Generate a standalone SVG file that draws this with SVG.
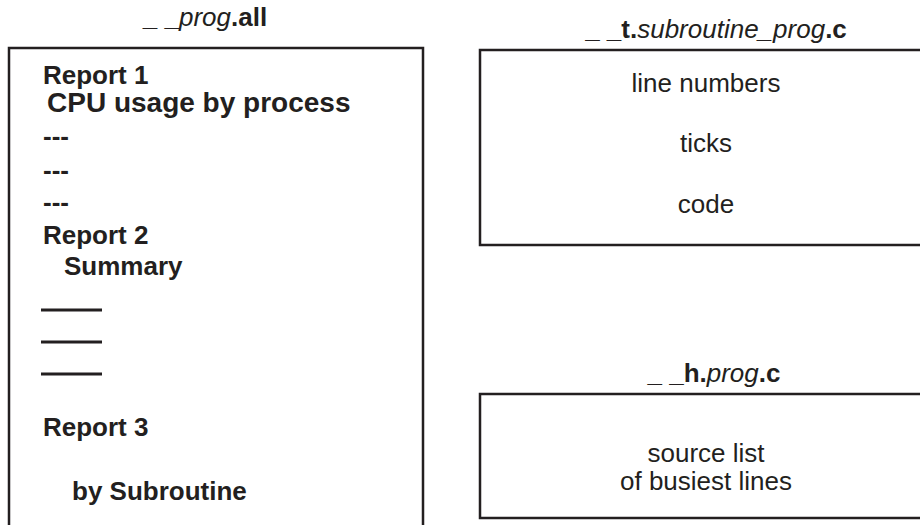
<svg xmlns="http://www.w3.org/2000/svg" width="920" height="525" viewBox="0 0 920 525">
  <style>
    text { font-family: "Liberation Sans", Arial, sans-serif; fill: #231f20; font-size: 26px; }
    .b { font-weight: bold; }
    .i { font-style: italic; font-weight: normal; }
    .c { text-anchor: middle; }
    .box { fill: none; stroke: #231f20; stroke-width: 2.5; }
    .rule { stroke: #231f20; stroke-width: 3; }
  </style>
  <rect width="920" height="525" fill="#ffffff"/>

  <!-- profile listing file -->
  <g id="prog-all">
    <text class="c b" x="205" y="26">_ _<tspan class="i">prog</tspan>.all</text>
    <path class="box" d="M9,530 V48 H423 V530"/>
    <text class="b" x="43" y="84">Report 1</text>
    <text class="b" x="47" y="112" style="font-size:28px">CPU usage by process</text>
    <text class="b" x="43" y="145">---</text>
    <text class="b" x="43" y="179">---</text>
    <text class="b" x="43" y="211">---</text>
    <text class="b" x="43" y="244">Report 2</text>
    <text class="b" x="64" y="275">Summary</text>
    <line class="rule" x1="41" y1="310" x2="102" y2="310"/>
    <line class="rule" x1="41" y1="342" x2="102" y2="342"/>
    <line class="rule" x1="41" y1="374" x2="102" y2="374"/>
    <text class="b" x="43" y="436">Report 3</text>
    <text class="b" x="72" y="500">by Subroutine</text>
  </g>

  <!-- per-subroutine tick file -->
  <g id="t-subroutine">
    <text class="c b" x="716" y="38">_ _t.<tspan class="i">subroutine_prog</tspan>.c</text>
    <path class="box" d="M930,50 H480 V245 H930"/>
    <text class="c" x="706" y="92">line numbers</text>
    <text class="c" x="706" y="152">ticks</text>
    <text class="c" x="706" y="213">code</text>
  </g>

  <!-- hot-lines source file -->
  <g id="h-prog">
    <text class="c b" x="714" y="382">_ _h.<tspan class="i">prog</tspan>.c</text>
    <path class="box" d="M930,394 H480 V518 H930"/>
    <text class="c" x="706" y="462">source list</text>
    <text class="c" x="706" y="490">of busiest lines</text>
  </g>

  <g id="connectors"></g>
</svg>
